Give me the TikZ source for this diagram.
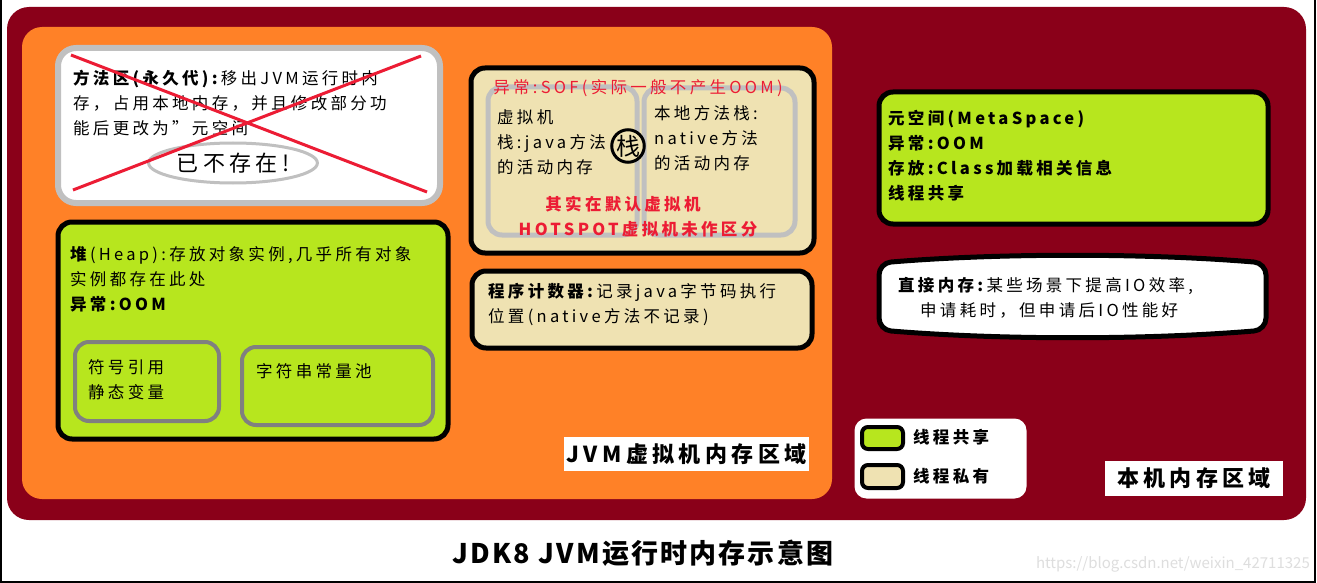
\documentclass[tikz,border=0pt]{standalone}
\usepackage{fontspec}
\setmainfont{Noto Sans CJK SC}[LetterSpace=20]
\usepackage{xcolor}
\usepackage{tikz}
\usetikzlibrary{positioning,shapes,arrows.meta,shapes.geometric}

\definecolor{maroonbg}{RGB}{138,0,25}
\definecolor{orangebg}{RGB}{255,129,39}
\definecolor{limefill}{RGB}{183,230,30}
\definecolor{wheatfill}{RGB}{239,226,178}
\definecolor{softgray}{RGB}{192,192,192}
\definecolor{midgray}{RGB}{128,128,128}
\definecolor{alertred}{RGB}{236,28,52}

\newcommand{\bodyfont}{\fontsize{16.5}{25}\selectfont}

\tikzset{
  membox/.style={draw=black, line width=5pt, rounded corners=14pt, anchor=north west, inner sep=0pt},
  sharedbox/.style={membox, fill=limefill},
  privbox/.style={membox, fill=wheatfill},
  subbox/.style={membox, draw=midgray, line width=4pt},
  txt/.style={anchor=north west, align=left, inner sep=0pt, font=\bodyfont},
  label/.style={fill=white, inner sep=0pt, font=\fontsize{22}{24}\selectfont\bfseries},
}

\begin{document}
\begin{tikzpicture}[x=1pt, y=-1pt]
  \useasboundingbox (0,0) rectangle (1317,583);
  \fill[white] (0,0) rectangle (1317,583);
  \draw[line width=1.5pt] (1,0) -- (1,582) -- (1315,582) -- (1315,0);

  % regions
  \fill[maroonbg, rounded corners=22pt] (7,7) rectangle (1306,520);
  \fill[orangebg, rounded corners=20pt] (22,27) rectangle (832,499);

  % method area (gone)
  \node[membox, draw=softgray, line width=6pt, rounded corners=18pt, fill=white, minimum width=382pt, minimum height=155pt] (meth) at (55,45) {};
  \node[txt] (methtxt) at (73,70) {\textbf{方法区(永久代):}移出JVM运行时内\\存，占用本地内存，并且修改部分功\\能后更改为"元空间};
  \node[ellipse, draw=softgray, line width=3pt, minimum width=160pt, minimum height=40pt, font=\fontsize{22}{24}\selectfont] (gone) at (233,163) {已不存在!};
  \draw[alertred, line width=3pt] (71,55) -- (427,192);
  \draw[alertred, line width=3pt] (73,190) -- (421,56);

  % heap
  \node[sharedbox, minimum width=390pt, minimum height=217pt] (heap) at (55.5,219.5) {};
  \node[txt] (heaptxt) at (70,246) {\textbf{堆}(Heap):存放对象实例,几乎所有对象\\实例都存在此处\\\textbf{异常:OOM}};
  \node[subbox, minimum width=144pt, minimum height=79pt] (symref) at (73,340) {};
  \node[txt] (symtxt) at (88,359) {符号引用\\静态变量};
  \node[subbox, minimum width=191pt, minimum height=78pt] (strpool) at (240,345) {};
  \node[txt] (strtxt) at (256,363) {字符串常量池};

  % stacks
  \node[privbox, minimum width=343pt, minimum height=185pt] (stack) at (468.5,65.5) {};
  \node[membox, draw=softgray, minimum width=149pt, minimum height=148pt] (vmstack) at (485.5,84.5) {};
  \node[membox, draw=softgray, minimum width=151pt, minimum height=147pt] (natstack) at (641.5,85.5) {};
  \node[font=\bodyfont, text=alertred, inner sep=0pt] (sof) at (638,88) {异常:SOF(实际一般不产生OOM)};
  \node[txt] (vmtxt) at (497,109) {虚拟机\\栈:java方法\\的活动内存};
  \node[txt] (nattxt) at (654,105) {本地方法栈:\\native方法\\的活动内存};
  \node[circle, draw, line width=3pt, fill=wheatfill, minimum size=29pt, inner sep=0pt, font=\fontsize{24}{24}\selectfont] (zhan) at (628,146) {栈};
  \node[font=\bodyfont\bfseries, text=alertred, inner sep=0pt] (hot1) at (623,204) {其实在默认虚拟机};
  \node[font=\bodyfont\bfseries, text=alertred, inner sep=0pt] (hot2) at (638,229) {HOTSPOT虚拟机未作区分};

  % program counter
  \node[privbox, minimum width=340pt, minimum height=77pt] (pc) at (469.5,268.5) {};
  \node[txt] (pctxt) at (488,283) {\textbf{程序计数器:}记录java字节码执行\\位置(native方法不记录)};

  % native memory
  \node[sharedbox, minimum width=389pt, minimum height=132pt] (meta) at (876.5,89.5) {};
  \node[txt, font=\bodyfont\bfseries] (metatxt) at (888,110) {元空间(MetaSpace)\\异常:OOM\\存放:Class加载相关信息\\线程共享};
  \draw[line width=5pt, fill=white, rounded corners=12pt] (879,263) .. controls (1000,253) and (1145,253) .. (1266,263) -- (1266,330) .. controls (1145,340) and (1000,340) .. (879,330) -- cycle;
  \node[txt] (directtxt) at (898,277) {\textbf{直接内存:}某些场景下提高IO效率,\\\hspace*{22pt}申请耗时，但申请后IO性能好};

  % legend
  \node[membox, draw=none, fill=white, rounded corners=12pt, minimum width=172pt, minimum height=80pt] (legend) at (852,416) {};
  \node[sharedbox, line width=4pt, rounded corners=6pt, minimum width=41pt, minimum height=22pt] (legshared) at (860,425) {};
  \node[privbox, line width=4pt, rounded corners=6pt, minimum width=41pt, minimum height=23pt] (legpriv) at (860,463) {};
  \node[txt, anchor=west, font=\bodyfont\bfseries] (legsharedtxt) at (913,437) {线程共享};
  \node[txt, anchor=west, font=\bodyfont\bfseries] (legprivtxt) at (913,476) {线程私有};

  % area labels
  \node[label, minimum width=245pt, minimum height=34pt] (jvmlbl) at (686.5,454) {JVM虚拟机内存区域};
  \node[label, minimum width=178pt, minimum height=35pt] (hostlbl) at (1194,478.5) {本机内存区域};

  \node[inner sep=0pt, font=\fontsize{27}{28}\selectfont\bfseries\addfontfeatures{LetterSpace=8}] (title) at (643,553) {JDK8 JVM运行时内存示意图};
  \node[anchor=east, inner sep=0pt, text=black!13, font=\fontsize{15}{15}\selectfont\addfontfeatures{LetterSpace=0}] (mark) at (1310,564) {https://blog.csdn.net/weixin\_42711325};
\end{tikzpicture}
\end{document}
